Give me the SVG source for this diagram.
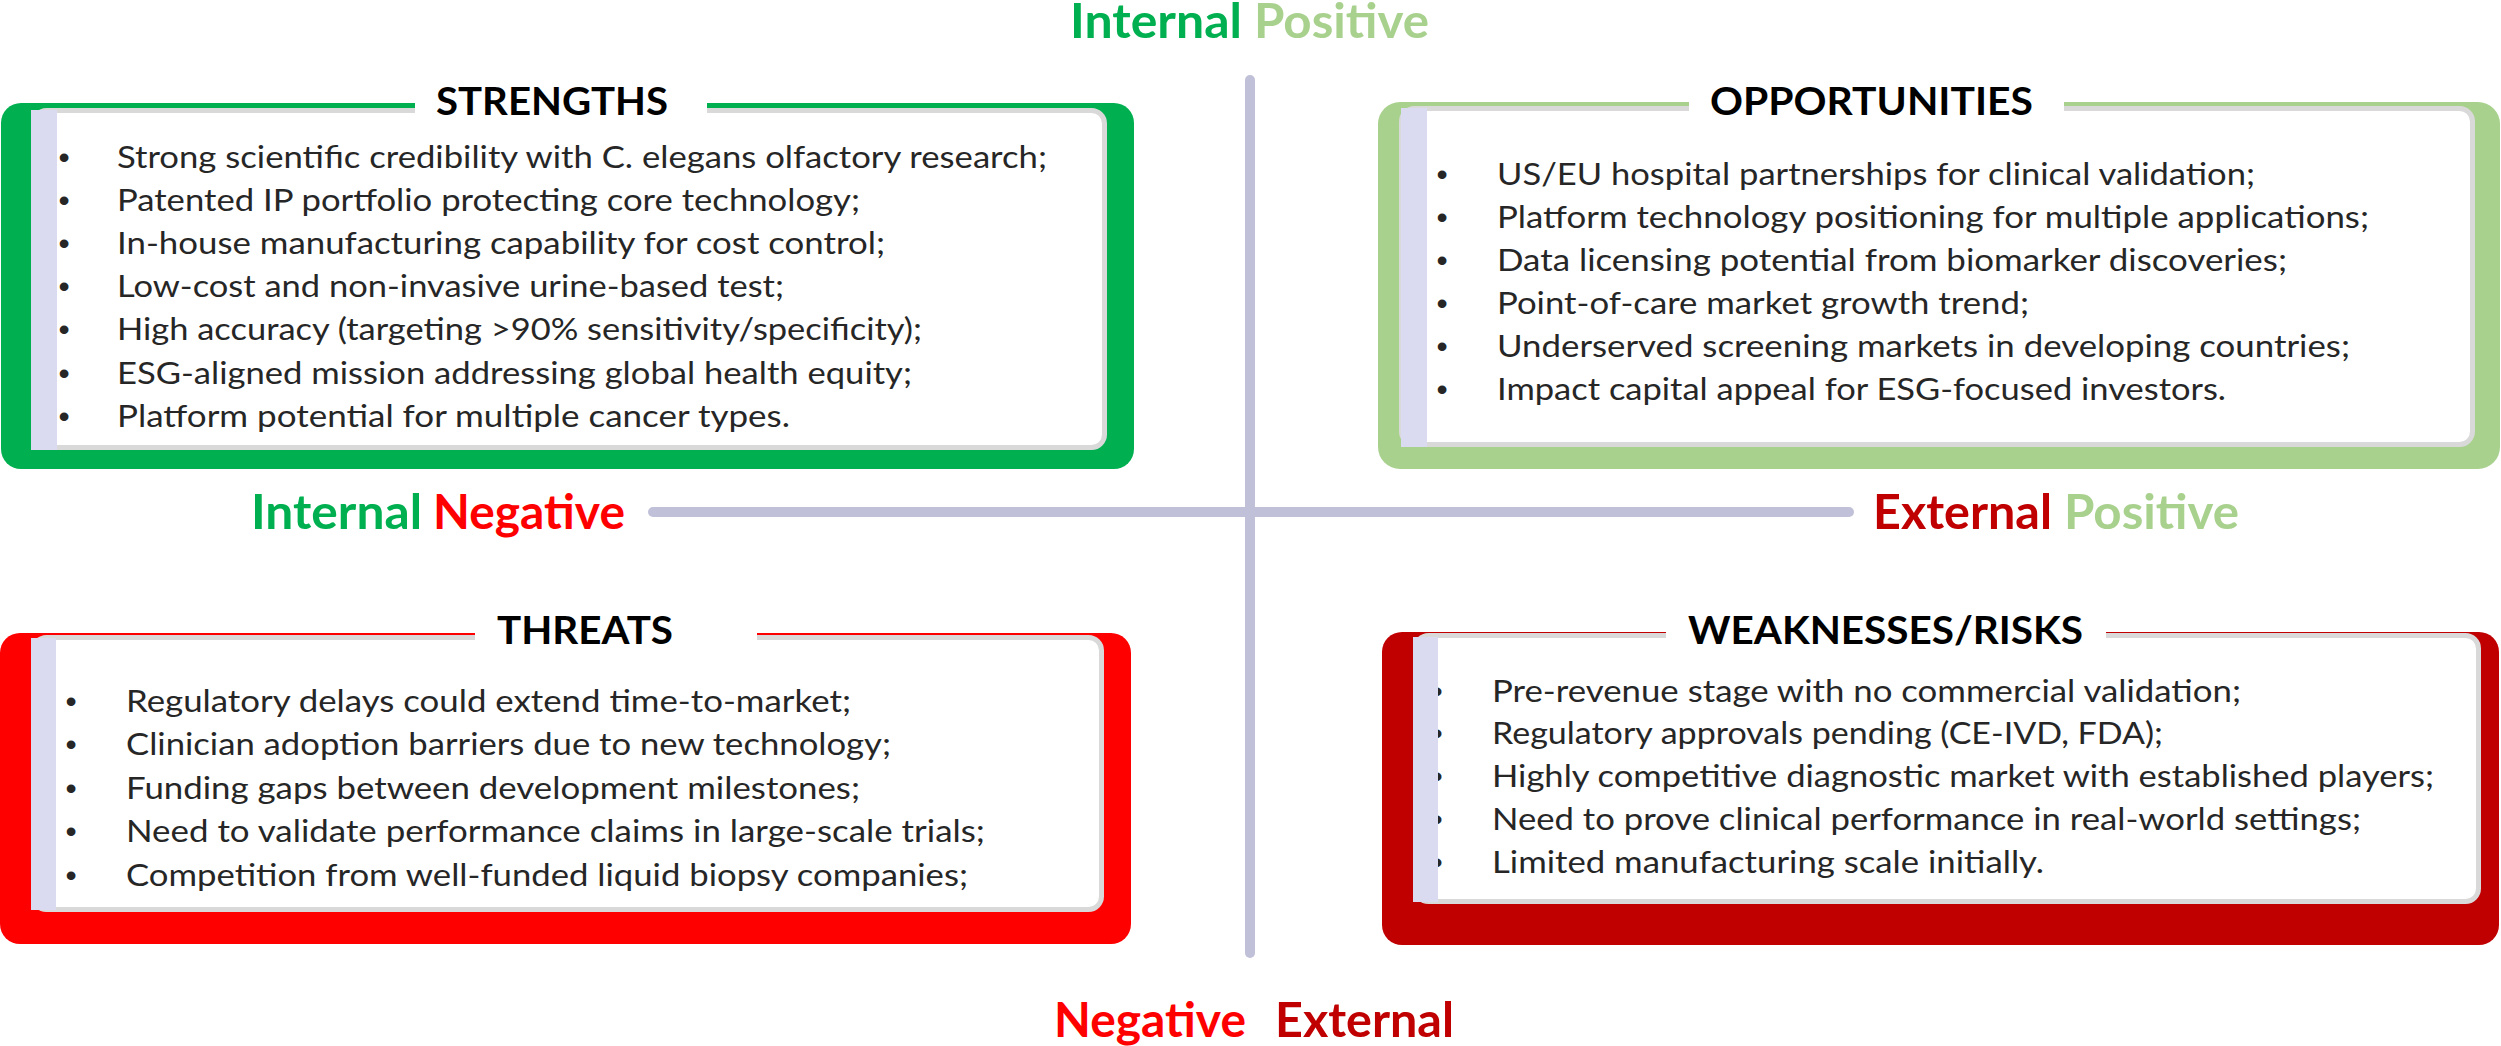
<svg xmlns="http://www.w3.org/2000/svg" width="2501" height="1046" viewBox="0 0 2501 1046">
  <style>
    .axis { stroke: #C0C0D8; stroke-width: 10; stroke-linecap: round; fill: none; }
    .panel { fill: #FFFFFF; stroke: #D9D9D9; stroke-width: 5; }
    .strip { fill: #DADAF0; }
    .gap { fill: #FFFFFF; }
    .title { font-family: Lato, "Open Sans", "Liberation Sans", sans-serif; font-weight: 700; font-size: 39px; fill: #000000; text-anchor: middle; }
    .body { font-family: Lato, "Open Sans", "Liberation Sans", sans-serif; font-size: 31px; fill: #262626; }
    .bullet { font-family: "Liberation Sans", Arial, sans-serif; font-size: 32px; fill: #262626; text-anchor: middle; }
    .label { font-family: Lato, "Open Sans", "Liberation Sans", sans-serif; font-weight: 700; font-size: 48px; }
    .green { fill: #00B050; }
    .lightgreen { fill: #A9D18E; }
    .red { fill: #FF0000; }
    .darkred { fill: #C00000; }
  </style>

  <!-- quadrant axes -->
  <g id="connectors">
    <line class="axis" x1="1250" y1="80" x2="1250" y2="953"/>
    <line class="axis" x1="653" y1="512" x2="1849" y2="512"/>
  </g>

  <!-- axis labels -->
  <g id="axis-labels">
    <text class="label green" x="1070" y="38" textLength="172" lengthAdjust="spacingAndGlyphs">Internal</text>
    <text class="label lightgreen" x="1254" y="38" textLength="175" lengthAdjust="spacingAndGlyphs">Positive</text>

    <text class="label green" x="251" y="529" textLength="171" lengthAdjust="spacingAndGlyphs">Internal</text>
    <text class="label red" x="433" y="529" textLength="192" lengthAdjust="spacingAndGlyphs">Negative</text>

    <text class="label darkred" x="1873" y="529" textLength="179" lengthAdjust="spacingAndGlyphs">External</text>
    <text class="label lightgreen" x="2064" y="529" textLength="175" lengthAdjust="spacingAndGlyphs">Positive</text>

    <text class="label red" x="1054" y="1037" textLength="192" lengthAdjust="spacingAndGlyphs">Negative</text>
    <text class="label darkred" x="1275" y="1037" textLength="179" lengthAdjust="spacingAndGlyphs">External</text>
  </g>

  <!-- Strengths -->
  <g id="strengths">
    <rect x="1" y="103" width="1133" height="366" rx="20" class="green"/>
    <rect x="33.5" y="110.5" width="1071" height="337" rx="13" class="panel"/>
    <rect x="31" y="110" width="26" height="340" class="strip"/>
    <rect x="415" y="97" width="292" height="17" class="gap"/>
    <text class="title" x="552" y="115" textLength="232" lengthAdjust="spacingAndGlyphs">STRENGTHS</text>
    <g class="bullet">
      <text x="64" y="168">•</text>
      <text x="64" y="211">•</text>
      <text x="64" y="254">•</text>
      <text x="64" y="297">•</text>
      <text x="64" y="340">•</text>
      <text x="64" y="384">•</text>
      <text x="64" y="427">•</text>
    </g>
    <g class="body">
      <text x="117" y="168" textLength="930" lengthAdjust="spacingAndGlyphs">Strong scientific credibility with C. elegans olfactory research;</text>
      <text x="117" y="211" textLength="743" lengthAdjust="spacingAndGlyphs">Patented IP portfolio protecting core technology;</text>
      <text x="117" y="254" textLength="768" lengthAdjust="spacingAndGlyphs">In-house manufacturing capability for cost control;</text>
      <text x="117" y="297" textLength="667" lengthAdjust="spacingAndGlyphs">Low-cost and non-invasive urine-based test;</text>
      <text x="117" y="340" textLength="805" lengthAdjust="spacingAndGlyphs">High accuracy (targeting &gt;90% sensitivity/specificity);</text>
      <text x="117" y="384" textLength="795" lengthAdjust="spacingAndGlyphs">ESG-aligned mission addressing global health equity;</text>
      <text x="117" y="427" textLength="673" lengthAdjust="spacingAndGlyphs">Platform potential for multiple cancer types.</text>
    </g>
  </g>

  <!-- Opportunities -->
  <g id="opportunities">
    <rect x="1378" y="102" width="1122" height="367" rx="22" class="lightgreen"/>
    <rect x="1401.5" y="108.5" width="1071" height="336" rx="13" class="panel"/>
    <rect x="1401" y="108" width="26" height="339" class="strip"/>
    <rect x="1689" y="96" width="375" height="17" class="gap"/>
    <text class="title" x="1871.5" y="115" textLength="323" lengthAdjust="spacingAndGlyphs">OPPORTUNITIES</text>
    <g class="bullet">
      <text x="1442" y="185">•</text>
      <text x="1442" y="228">•</text>
      <text x="1442" y="271">•</text>
      <text x="1442" y="314">•</text>
      <text x="1442" y="357">•</text>
      <text x="1442" y="400">•</text>
    </g>
    <g class="body">
      <text x="1497" y="185" textLength="758" lengthAdjust="spacingAndGlyphs">US/EU hospital partnerships for clinical validation;</text>
      <text x="1497" y="228" textLength="872" lengthAdjust="spacingAndGlyphs">Platform technology positioning for multiple applications;</text>
      <text x="1497" y="271" textLength="790" lengthAdjust="spacingAndGlyphs">Data licensing potential from biomarker discoveries;</text>
      <text x="1497" y="314" textLength="532" lengthAdjust="spacingAndGlyphs">Point-of-care market growth trend;</text>
      <text x="1497" y="357" textLength="853" lengthAdjust="spacingAndGlyphs">Underserved screening markets in developing countries;</text>
      <text x="1497" y="400" textLength="729" lengthAdjust="spacingAndGlyphs">Impact capital appeal for ESG-focused investors.</text>
    </g>
  </g>

  <!-- Threats -->
  <g id="threats">
    <rect x="0" y="633" width="1131" height="311" rx="20" class="red"/>
    <rect x="33.5" y="637.5" width="1068" height="272" rx="13" class="panel"/>
    <rect x="31" y="638" width="25" height="272" class="strip"/>
    <rect x="475" y="627" width="282" height="16" class="gap"/>
    <text class="title" x="585" y="644" textLength="176" lengthAdjust="spacingAndGlyphs">THREATS</text>
    <g class="bullet">
      <text x="71" y="712">•</text>
      <text x="71" y="755">•</text>
      <text x="71" y="799">•</text>
      <text x="71" y="842">•</text>
      <text x="71" y="886">•</text>
    </g>
    <g class="body">
      <text x="126" y="712" textLength="725" lengthAdjust="spacingAndGlyphs">Regulatory delays could extend time-to-market;</text>
      <text x="126" y="755" textLength="765" lengthAdjust="spacingAndGlyphs">Clinician adoption barriers due to new technology;</text>
      <text x="126" y="799" textLength="734" lengthAdjust="spacingAndGlyphs">Funding gaps between development milestones;</text>
      <text x="126" y="842" textLength="859" lengthAdjust="spacingAndGlyphs">Need to validate performance claims in large-scale trials;</text>
      <text x="126" y="886" textLength="842" lengthAdjust="spacingAndGlyphs">Competition from well-funded liquid biopsy companies;</text>
    </g>
  </g>

  <!-- Weaknesses / risks -->
  <g id="weaknesses-risks">
    <rect x="1382" y="632" width="1117" height="313" rx="20" class="darkred"/>
    <rect x="1415.5" y="635.5" width="1063" height="266" rx="13" class="panel"/>
    <g class="bullet">
      <text x="1437" y="702">•</text>
      <text x="1437" y="744">•</text>
      <text x="1437" y="787">•</text>
      <text x="1437" y="830">•</text>
      <text x="1437" y="873">•</text>
    </g>
    <rect x="1413" y="637" width="25" height="265" class="strip"/>
    <rect x="1666" y="626" width="440" height="16" class="gap"/>
    <text class="title" x="1885.5" y="644" textLength="395" lengthAdjust="spacingAndGlyphs">WEAKNESSES/RISKS</text>
    <g class="body">
      <text x="1492" y="702" textLength="749" lengthAdjust="spacingAndGlyphs">Pre-revenue stage with no commercial validation;</text>
      <text x="1492" y="744" textLength="671" lengthAdjust="spacingAndGlyphs">Regulatory approvals pending (CE-IVD, FDA);</text>
      <text x="1492" y="787" textLength="942" lengthAdjust="spacingAndGlyphs">Highly competitive diagnostic market with established players;</text>
      <text x="1492" y="830" textLength="869" lengthAdjust="spacingAndGlyphs">Need to prove clinical performance in real-world settings;</text>
      <text x="1492" y="873" textLength="552" lengthAdjust="spacingAndGlyphs">Limited manufacturing scale initially.</text>
    </g>
  </g>
</svg>
